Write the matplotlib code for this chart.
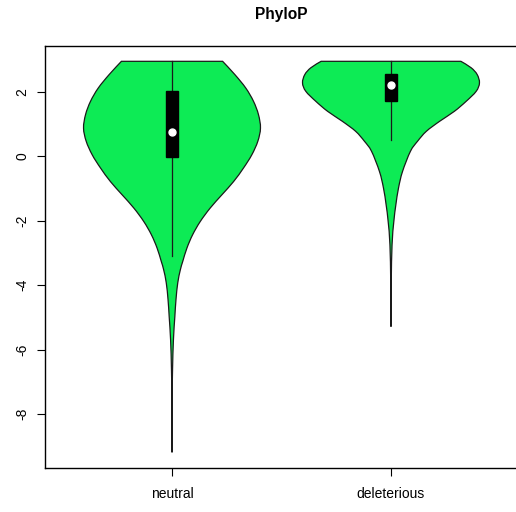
import numpy as np
import matplotlib
matplotlib.use("Agg")
import matplotlib.pyplot as plt
from matplotlib.patches import Rectangle, PathPatch
from matplotlib.path import Path

plt.rcParams['font.family'] = ['Liberation Sans', 'DejaVu Sans']

# groups and summary stats (PhyloP scores)
groups = ["neutral", "deleterious"]
q1 = [-0.04, 1.72]
q3 = [2.03, 2.55]
medians = [0.75, 2.20]
whisk_lo = [-3.10, 0.51]
whisk_hi = [2.94, 2.94]

# density profiles: score levels and relative density (max = 1)
neutral_y = [2.94, 2.53, 2.11, 1.70, 1.29, 0.87, 0.46, 0.04, -0.37, -0.79, -1.20,
             -1.61, -2.03, -2.44, -2.85, -3.27, -3.53, -3.93, -4.45, -4.98, -5.70,
             -6.63, -7.56, -9.19]
neutral_d = [0.572, 0.710, 0.834, 0.921, 0.977, 1.0, 0.970, 0.902, 0.808, 0.696, 0.564,
             0.432, 0.319, 0.233, 0.169, 0.121, 0.094, 0.065, 0.045, 0.032, 0.016,
             0.006, 0.002, 0.0]
delet_y = [2.94, 2.74, 2.53, 2.27, 2.01, 1.70, 1.39, 1.08, 0.77, 0.46, 0.15, -0.48,
           -0.99, -1.51, -2.03, -2.75, -3.93, -5.29]
delet_d = [0.79, 0.906, 0.974, 1.0, 0.963, 0.85, 0.717, 0.55, 0.40, 0.30, 0.22, 0.13,
           0.085, 0.055, 0.032, 0.012, 0.003, 0.0]

profiles = [(neutral_y, neutral_d), (delet_y, delet_d)]


def smooth_side(xs, ys):
    """Catmull-Rom curve through the points, as cubic Bezier segments."""
    pts = np.column_stack([xs, ys])
    verts, codes = [pts[0]], [Path.MOVETO]
    n = len(pts)
    for k in range(n - 1):
        p0 = pts[max(k - 1, 0)]
        p1, p2 = pts[k], pts[k + 1]
        p3 = pts[min(k + 2, n - 1)]
        c1 = p1 + (p2 - p0) / 6.0
        c2 = p2 - (p3 - p1) / 6.0
        verts += [c1, c2, p2]
        codes += [Path.CURVE4] * 3
    return verts, codes


fig = plt.figure(figsize=(5.16, 5.12), dpi=100)
ax = fig.add_axes([45 / 516, 1 - 468 / 512, 473 / 516, 422 / 512])

half_max = 0.404
box_half = 0.027
edge = '#1a1a1a'
for i, (ys, ds) in enumerate(profiles):
    pos = i + 1
    ys = np.array(ys)
    hw = np.array(ds) * half_max
    rv, rc = smooth_side(pos + hw, ys)
    lv, lc = smooth_side((pos - hw)[::-1], ys[::-1])
    verts = rv + lv + [rv[0]]
    codes = rc + [Path.LINETO] + lc[1:] + [Path.CLOSEPOLY]
    outline = Path(verts, codes)
    ax.add_patch(PathPatch(outline, facecolor='#0DEB55', edgecolor=edge,
                           lw=0.9, zorder=1))
    ax.plot([pos, pos], [whisk_lo[i], whisk_hi[i]], color=edge, lw=0.9, zorder=3)
    ax.add_patch(Rectangle((pos - box_half, q1[i]), 2 * box_half, q3[i] - q1[i],
                           facecolor='black', edgecolor='black', zorder=4))
    ax.plot(pos, medians[i], 'o', color='white', markersize=5, zorder=5)

ax.set_xlim(0.42, 2.58)
ax.set_ylim(-9.675, 3.415)
ax.set_xticks([1, 2])
ax.set_xticklabels(groups, fontsize=10)
ax.set_yticks([-8, -6, -4, -2, 0, 2])
ax.set_yticklabels(['-8', '-6', '-4', '-2', '0', '2'], fontsize=10, rotation=90, va='center')
ax.tick_params(direction='out', length=6, width=0.8)
ax.tick_params(axis='x', pad=8)
ax.tick_params(axis='y', pad=5.5)
for sp in ax.spines.values():
    sp.set_linewidth(1.0)

fig.text(281.5 / 516, 1 - 15 / 512, "PhyloP", ha='center', va='center',
         fontsize=11.2, fontweight='bold')

fig.savefig("out.png", dpi=100)
